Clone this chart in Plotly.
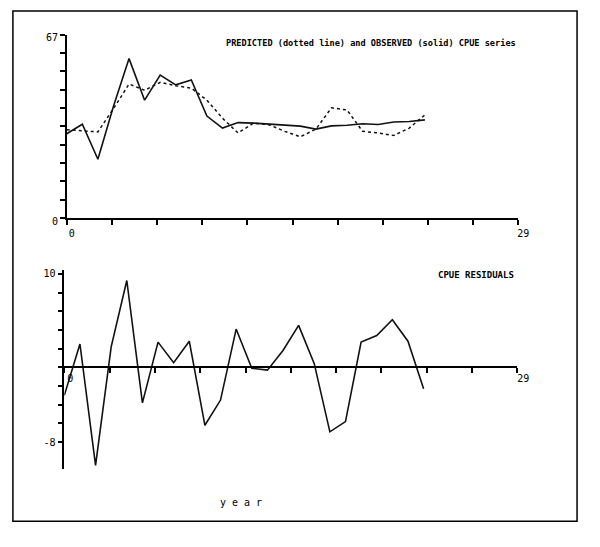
import plotly.graph_objects as go

# values
years = list(range(24))
observed = [30.8, 34.3, 21.5, 40.9, 58.3, 43.1, 52.3, 48.7, 50.5, 37.3, 32.9, 34.9,
            34.7, 34.3, 33.9, 33.6, 32.5, 33.7, 33.9, 34.5, 34.2, 35.1, 35.3, 35.9]
predicted = [32.3, 31.8, 31.5, 40.0, 49.0, 46.7, 49.6, 48.4, 47.5, 43.1, 36.5, 31.1,
             34.7, 34.1, 31.7, 29.7, 32.5, 40.3, 39.5, 31.7, 31.1, 30.2, 32.9, 37.7]
residuals = [-3.0, 2.5, -10.5, 2.2, 9.3, -3.8, 2.7, 0.5, 2.8, -6.2, -3.5, 4.1,
             -0.1, -0.3, 1.8, 4.5, 0.4, -6.9, -5.8, 2.7, 3.4, 5.1, 2.8, -2.3]

x_tickvals = [0, 2.9, 5.8, 8.7, 11.6, 14.5, 17.4, 20.3, 23.2, 26.1, 29]
x_ticktext = ['0', '', '', '', '', '', '', '', '', '', '29']
top_tickvals = [0, 6.7, 13.4, 20.1, 26.8, 33.5, 40.2, 46.9, 53.6, 60.3, 67]
top_ticktext = ['0', '', '', '', '', '', '', '', '', '', '67']
res_tickvals = [10, 8, 6, 4, 2, 0, -2, -4, -6, -8]
res_ticktext = ['10', '', '', '', '', '', '', '', '', '-8']

# the page body adds an 8px margin, so the figure is made to fit inside it
OFF = 8
W, H = 600 - 2 * OFF, 547 - 2 * OFF


def px(x):
    return (x - OFF) / W


def py(y):
    return 1 - (y - OFF) / H


top_xdom = [px(68), px(529)]
top_ydom = [py(220), py(33.3)]
bot_xdom = [px(65.5), px(528)]
bot_ydom = [py(476), py(273.2)]
res_range = [-10.9, 10.4]
# paper position of the residual zero line
zero_pos = bot_ydom[0] + (0 - res_range[0]) / (res_range[1] - res_range[0]) * (bot_ydom[1] - bot_ydom[0])

tickfont = dict(family='DejaVu Sans Mono', size=10, color='black')
axis_style = dict(showline=True, linecolor='black', linewidth=1.5, ticks='outside',
                  ticklen=5, tickcolor='black', tickwidth=1.5, showgrid=False,
                  zeroline=False, tickfont=tickfont, tickmode='array')
# twin axes give the ticks that cross the axis line
twin_style = dict(showline=False, ticks='inside', ticklen=6, tickcolor='black',
                  tickwidth=1.5, showgrid=False, zeroline=False, showticklabels=False,
                  tickmode='array')

fig = go.Figure()

fig.add_trace(go.Scatter(x=years, y=predicted, mode='lines', xaxis='x', yaxis='y',
                         line=dict(color='#111', width=1.5, dash='dot')))
fig.add_trace(go.Scatter(x=years, y=observed, mode='lines', xaxis='x', yaxis='y',
                         line=dict(color='#111', width=1.6)))
fig.add_trace(go.Scatter(x=years, y=residuals, mode='lines', xaxis='x2', yaxis='y2',
                         line=dict(color='#111', width=1.6)))

fig.update_layout(
    width=W, height=H,
    margin=dict(l=0, r=0, t=0, b=0),
    paper_bgcolor='white', plot_bgcolor='white',
    showlegend=False,
    xaxis=dict(axis_style, domain=top_xdom, range=[0, 29], anchor='y',
               tickvals=x_tickvals, ticktext=x_ticktext, ticklabelshift=5),
    yaxis=dict(axis_style, domain=top_ydom, range=[0, 67], anchor='x',
               tickvals=top_tickvals, ticktext=top_ticktext, ticklabelshift=3),
    xaxis2=dict(axis_style, domain=bot_xdom, range=[0, 29], anchor='free',
                position=zero_pos, tickvals=x_tickvals, ticktext=x_ticktext,
                ticklabelshift=6, ticklabelstandoff=-3),
    yaxis2=dict(axis_style, domain=bot_ydom, range=res_range, anchor='x2',
                tickvals=res_tickvals, ticktext=res_ticktext),
    xaxis3=dict(twin_style, domain=top_xdom, range=[0, 29], anchor='y',
                overlaying='x', tickvals=x_tickvals),
    yaxis3=dict(twin_style, domain=top_ydom, range=[0, 67], anchor='x',
                overlaying='y', tickvals=top_tickvals),
    xaxis4=dict(twin_style, domain=bot_xdom, range=[0, 29], anchor='free',
                position=zero_pos, overlaying='x2', tickvals=x_tickvals),
    yaxis4=dict(twin_style, domain=bot_ydom, range=res_range, anchor='x2',
                overlaying='y2', tickvals=res_tickvals),
)

label_font = dict(family='DejaVu Sans Mono', size=8.6, color='black')
fig.add_annotation(text='<b>PREDICTED (dotted line) and OBSERVED (solid) CPUE series</b>',
                   xref='paper', yref='paper', x=px(529), y=py(42),
                   xanchor='right', yanchor='middle', showarrow=False, font=label_font)
fig.add_annotation(text='<b>CPUE RESIDUALS</b>',
                   xref='paper', yref='paper', x=px(527), y=py(278),
                   xanchor='right', yanchor='middle', showarrow=False,
                   font=dict(label_font, size=9))
fig.add_annotation(text='y e a r', xref='paper', yref='paper', x=px(246), y=py(510),
                   xanchor='center', yanchor='middle', showarrow=False,
                   font=dict(family='DejaVu Sans Mono', size=10, color='black'))

# frame round the whole printout
fig.add_shape(type='rect', xref='paper', yref='paper',
              x0=px(13), x1=px(589), y0=py(529), y1=py(9),
              line=dict(color='black', width=1.5))

fig.write_html("out.html")
